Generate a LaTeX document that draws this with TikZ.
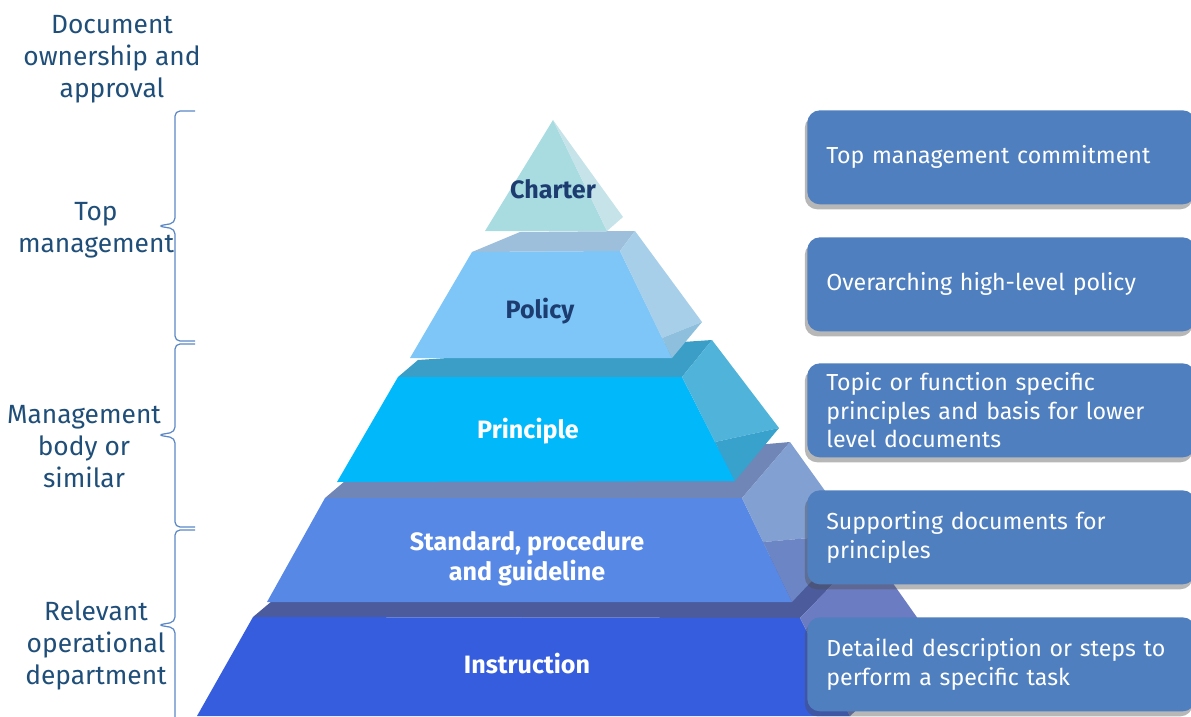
\documentclass[tikz,border=0pt]{standalone}
\usepackage{fontspec}
\setmainfont{Fira Sans}
\usepackage{tikz}
\usetikzlibrary{shadows}

\definecolor{navy}{HTML}{1F4E79}
\definecolor{darktxt}{HTML}{1D3C70}
\definecolor{bracecol}{HTML}{5B87C5}
\definecolor{boxblue}{HTML}{4F7FBE}
\definecolor{chFront}{HTML}{A8DCE1}
\definecolor{chSide}{HTML}{C5E3E8}
\definecolor{poBand}{HTML}{9DBFDC}
\definecolor{poFront}{HTML}{7DC6F7}
\definecolor{poSide}{HTML}{A8CFEA}
\definecolor{poLow}{HTML}{8EC0DE}
\definecolor{prBand}{HTML}{3A9EC6}
\definecolor{prFront}{HTML}{00B8FA}
\definecolor{prSide}{HTML}{50B4DA}
\definecolor{prLow}{HTML}{38A1CC}
\definecolor{stBand}{HTML}{7086B6}
\definecolor{stFront}{HTML}{5888E6}
\definecolor{stSide}{HTML}{82A0D2}
\definecolor{stLow}{HTML}{6B85C5}
\definecolor{inBand}{HTML}{4B5B9B}
\definecolor{inFront}{HTML}{365DDD}
\definecolor{inSide}{HTML}{6C7CC2}

\begin{document}
\begin{tikzpicture}[
    x=0.02cm, y=-0.02cm,
    owner/.style={font=\fontsize{15}{18.2}\selectfont, text=navy, align=center},
    layer/.style={font=\fontsize{14.3}{17}\selectfont\bfseries, align=center},
    desc/.style={rounded corners=0.25cm, fill=boxblue, text=white, anchor=north west,
        minimum width=7.68cm, minimum height=1.88cm, text width=7.0cm, inner xsep=0.38cm,
        align=left, font=\fontsize{13.2}{16.2}\selectfont,
        drop shadow={shadow xshift=-0.05cm, shadow yshift=-0.1cm, opacity=0.4, fill=black!70}},
    brc/.style={draw=bracecol, line width=0.7pt, rounded corners=0.1cm}
]
\useasboundingbox (0,0) rectangle (1191,717);

% pyramid, bottom layer first
\fill[inBand] (253,617) -- (272,601) -- (868,548) -- (800,618) -- cycle;
\fill[inFront] (253,617) -- (800,618) -- (850,716) -- (197,716) -- cycle;
\fill[inSide] (800,618) -- (868,548) -- (933,640) -- (850,716) -- cycle;

\fill[stBand] (325,498) -- (345,481) -- (790,442) -- (742,498) -- cycle;
\fill[stFront] (325,498) -- (742,498) -- (792,602) -- (267,602) -- cycle;
\fill[stSide] (742,498) -- (790,442) -- (856,534) -- (763,542) -- cycle;
\fill[stLow] (763,542) -- (856,534) -- (792,602) -- cycle;

\fill[prBand] (398,377) -- (418,360) -- (712,340) -- (682,377) -- cycle;
\fill[prFront] (398,377) -- (682,377) -- (735,481) -- (337,482) -- cycle;
\fill[prSide] (682,377) -- (712,340) -- (779,428) -- (715,442) -- cycle;
\fill[prLow] (715,442) -- (779,428) -- (735,481) -- cycle;

\fill[poBand] (472,252) -- (520,232) -- (635,231) -- (620,251) -- cycle;
\fill[poFront] (472,252) -- (620,251) -- (672,358) -- (410,358) -- cycle;
\fill[poSide] (620,251) -- (635,231) -- (702,322) -- (662,338) -- cycle;
\fill[poLow] (662,338) -- (702,322) -- (672,358) -- cycle;

\fill[chFront] (553,120) -- (607,231) -- (485,231) -- cycle;
\fill[chSide] (553,120) -- (623,217) -- (607,231) -- cycle;

\node[layer, text=darktxt] (charter) at (553,189) {Charter};
\node[layer, text=darktxt] (policy) at (540,311) {Policy};
\node[layer, text=white] (principle) at (528,431) {Principle};
\node[layer, text=white] (standard) at (527,559) {Standard, procedure\\and guideline};
\node[layer, text=white] (instruction) at (527,664) {Instruction};

% descriptions on the right
\node[desc] (dCharter) at (807,110) {Top management commitment};
\node[desc] (dPolicy) at (807,237) {Overarching high-level policy};
\node[desc] (dPrinciple) at (807,363) {Topic or function specific\\principles and basis for lower\\level documents};
\node[desc] (dStandard) at (807,490) {Supporting documents for\\principles};
\node[desc] (dInstruction) at (807,617) {Detailed description or steps to\\perform a specific task};

% owners on the left
\node[owner] (head) at (112,59) {Document\\ownership and\\approval};
\node[owner] (topmgmt) at (96,230) {Top\\management};
\node[owner] (mgmtbody) at (84,447) {Management\\body or\\similar};
\node[owner] (opdept) at (96,645) {Relevant\\operational\\department};

\draw[brc] (195,111) -- (175,111) -- (175,223) -- (158,226) -- (175,229) -- (175,341) -- (195,341);
\draw[brc] (195,344) -- (175,344) -- (175,432) -- (158,435) -- (175,438) -- (175,527) -- (195,527);
\draw[brc] (195,530) -- (175,530) -- (175,622) -- (158,625) -- (175,628) -- (175,740);
\end{tikzpicture}
\end{document}
